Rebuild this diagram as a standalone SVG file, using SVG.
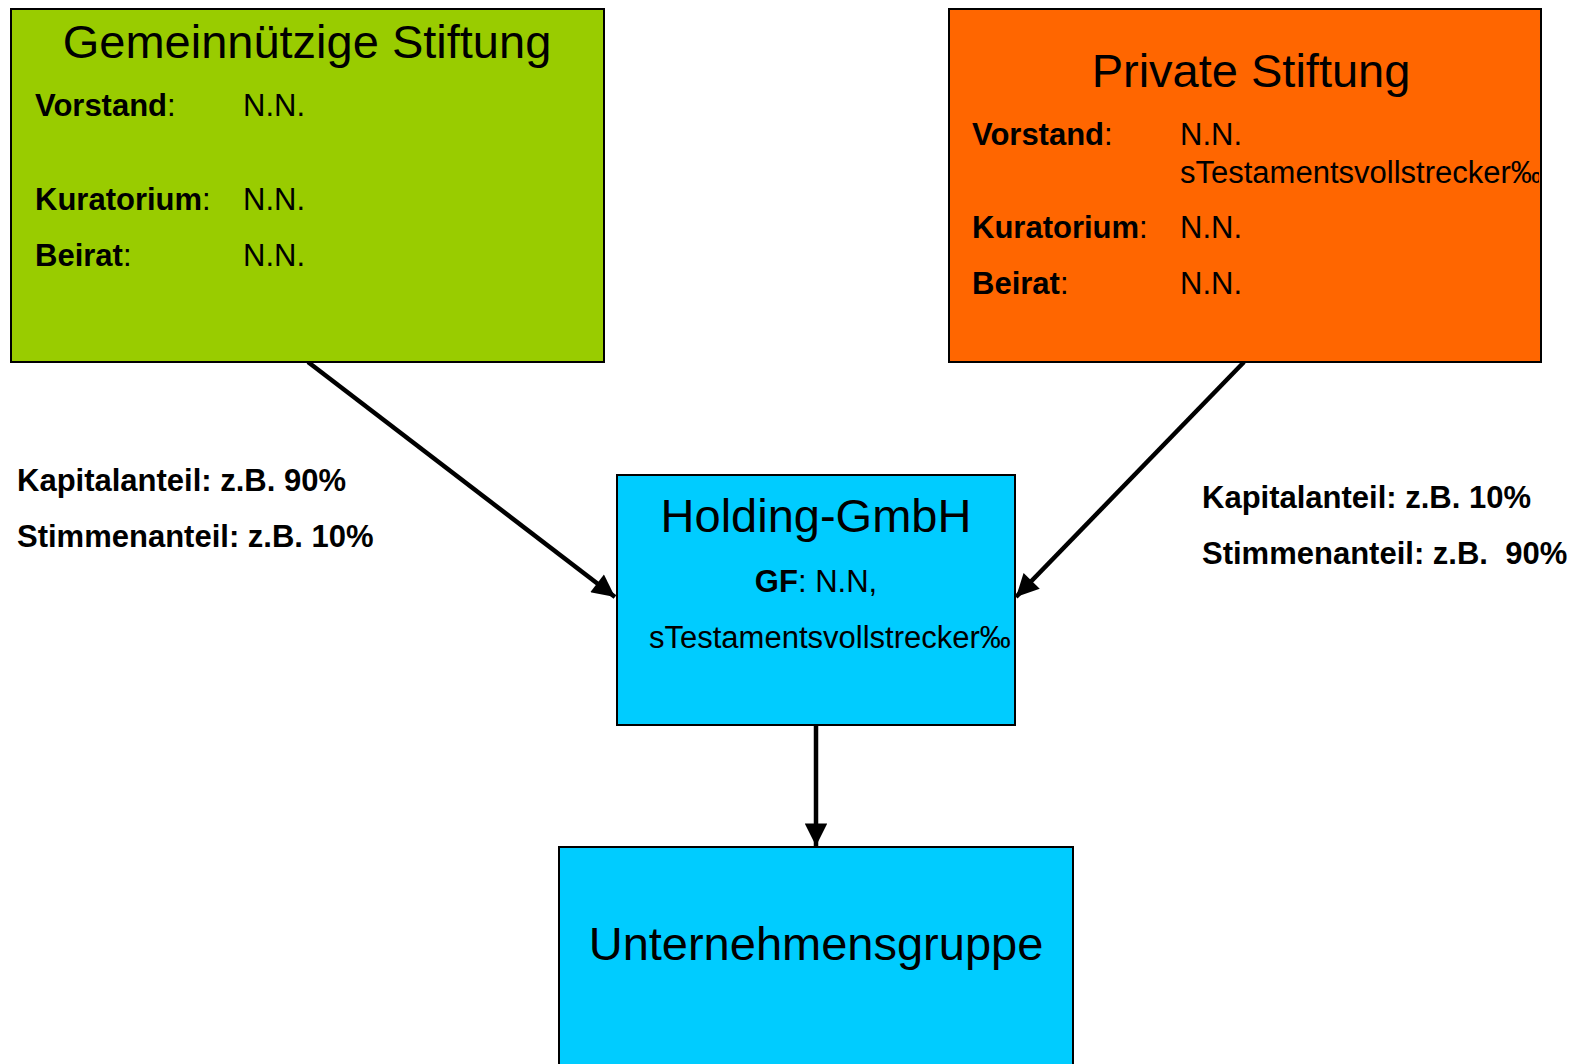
<svg xmlns="http://www.w3.org/2000/svg" width="1574" height="1064" viewBox="0 0 1574 1064">
  <style>
    .box { stroke: #000; stroke-width: 2; }
    .title { font-family: "Liberation Sans", Arial, sans-serif; font-size: 47px; fill: #000; }
    .txt { font-family: "Liberation Sans", Arial, sans-serif; font-size: 31px; fill: #000; }
    .b { font-weight: bold; }
    .conn { stroke: #000; stroke-width: 4.5; fill: none; }
  </style>
  <defs>
    <marker id="arrow" viewBox="0 0 10 10" refX="10" refY="5" markerWidth="5.5" markerHeight="5" markerUnits="strokeWidth" orient="auto">
      <path d="M0,0 L10,5 L0,10 z" fill="#000"/>
    </marker>
    <clipPath id="clipPrivate">
      <rect x="949" y="8" width="590" height="354"/>
    </clipPath>
  </defs>
  <rect width="1574" height="1064" fill="#fff"/>

  <!-- connectors -->
  <g id="connectors">
    <line class="conn" x1="308" y1="362" x2="615" y2="597" marker-end="url(#arrow)"/>
    <line class="conn" x1="1244" y1="362" x2="1016" y2="597" marker-end="url(#arrow)"/>
    <line class="conn" x1="816" y1="725" x2="816" y2="846" marker-end="url(#arrow)"/>
  </g>

  <!-- share labels -->
  <g id="label-left">
    <text class="txt b" x="17" y="491">Kapitalanteil: z.B. 90%</text>
    <text class="txt b" x="17" y="547">Stimmenanteil: z.B. 10%</text>
  </g>
  <g id="label-right">
    <text class="txt b" x="1202" y="508">Kapitalanteil: z.B. 10%</text>
    <text class="txt b" x="1202" y="564" xml:space="preserve">Stimmenanteil: z.B.  90%</text>
  </g>

  <!-- Gemeinnützige Stiftung -->
  <g id="node-gemeinnuetzig">
    <rect class="box" x="11" y="9" width="593" height="353" fill="#99CC00"/>
    <text class="title" x="307" y="58" text-anchor="middle">Gemeinnützige Stiftung</text>
    <text class="txt" x="35" y="116"><tspan class="b">Vorstand</tspan>:</text>
    <text class="txt" x="243" y="116">N.N.</text>
    <text class="txt" x="35" y="210"><tspan class="b">Kuratorium</tspan>:</text>
    <text class="txt" x="243" y="210">N.N.</text>
    <text class="txt" x="35" y="266"><tspan class="b">Beirat</tspan>:</text>
    <text class="txt" x="243" y="266">N.N.</text>
  </g>

  <!-- Private Stiftung -->
  <g id="node-privat">
    <rect class="box" x="949" y="9" width="592" height="353" fill="#FF6600"/>
    <text class="title" x="1251" y="87" text-anchor="middle">Private Stiftung</text>
    <g clip-path="url(#clipPrivate)">
      <text class="txt" x="972" y="145"><tspan class="b">Vorstand</tspan>:</text>
      <text class="txt" x="1180" y="145">N.N.</text>
      <text class="txt" x="1180" y="183">sTestamentsvollstrecker‰</text>
      <text class="txt" x="972" y="238"><tspan class="b">Kuratorium</tspan>:</text>
      <text class="txt" x="1180" y="238">N.N.</text>
      <text class="txt" x="972" y="294"><tspan class="b">Beirat</tspan>:</text>
      <text class="txt" x="1180" y="294">N.N.</text>
    </g>
  </g>

  <!-- Holding-GmbH -->
  <g id="node-holding">
    <rect class="box" x="617" y="475" width="398" height="250" fill="#00CCFF"/>
    <text class="title" x="816" y="532" text-anchor="middle">Holding-GmbH</text>
    <text class="txt" x="816" y="592" text-anchor="middle"><tspan class="b">GF</tspan>: N.N,</text>
    <text class="txt" x="649" y="648">sTestamentsvollstrecker‰</text>
  </g>

  <!-- Unternehmensgruppe -->
  <g id="node-unternehmen">
    <rect class="box" x="559" y="847" width="514" height="230" fill="#00CCFF"/>
    <text class="title" x="816" y="960" text-anchor="middle">Unternehmensgruppe</text>
  </g>
</svg>
